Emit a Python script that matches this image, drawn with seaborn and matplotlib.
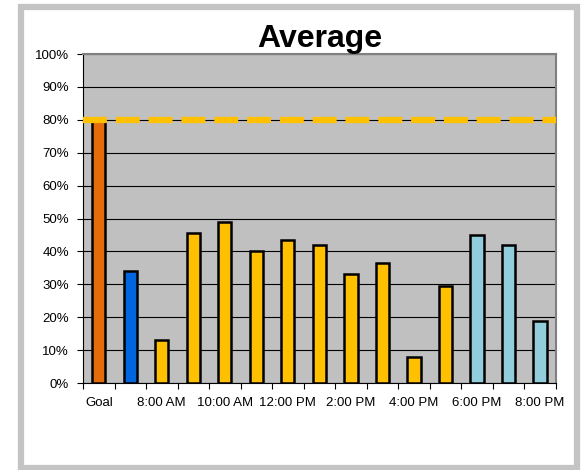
import pandas as pd
import seaborn as sns
import matplotlib.pyplot as plt
from matplotlib.patches import Rectangle
from matplotlib.ticker import FixedLocator, PercentFormatter

# Chart data
categories = ['Goal', '7:00 AM', '8:00 AM', '9:00 AM', '10:00 AM', '11:00 AM',
              '12:00 PM', '1:00 PM', '2:00 PM', '3:00 PM', '4:00 PM', '5:00 PM',
              '6:00 PM', '7:00 PM', '8:00 PM']
values = [80, 34, 13, 45.5, 49, 40, 43.5, 42, 33, 36.5, 8, 29.5, 45, 42, 19]
bar_colors = ['#E46C0A', '#0066E0'] + ['#FFC000'] * 10 + ['#92CDDC'] * 3
goal_line = 80

df = pd.DataFrame({'slot': categories, 'pct': values})

sns.set_style('white')
plt.rcParams['font.family'] = ['Liberation Sans', 'DejaVu Sans']
plt.rcParams['text.color'] = 'black'
plt.rcParams['xtick.color'] = 'black'
plt.rcParams['ytick.color'] = 'black'

fig = plt.figure(figsize=(5.82, 4.70), dpi=100)
ax = fig.add_axes([0.1426, 0.185, 0.8124, 0.70])

# chart area border
fig.patches.append(Rectangle((0.0361, 0.004), 0.9553, 0.981, transform=fig.transFigure,
                             fill=False, edgecolor='#C4C4C4', linewidth=4.5, zorder=0))

ax.set_facecolor('#C0C0C0')
ax.yaxis.grid(True, color='black', linewidth=0.8)
ax.set_axisbelow(True)

sns.barplot(data=df, x='slot', y='pct', hue='slot', palette=bar_colors,
            legend=False, width=0.42, edgecolor='black', linewidth=1.8,
            saturation=1, ax=ax, zorder=2)

ax.axhline(goal_line, color='#FFC000', linewidth=4.5, linestyle=(0, (3.83, 1.42)),
           zorder=3)

ax.set_xlim(-0.5, len(categories) - 0.5)
ax.set_ylim(0, 100)
ax.set_yticks(range(0, 101, 10))
ax.yaxis.set_major_formatter(PercentFormatter(decimals=0))

# labels on every other slot, tick marks at category boundaries
ax.set_xticks(range(0, len(categories), 2))
ax.set_xticklabels(categories[::2])
ax.xaxis.set_minor_locator(FixedLocator([i - 0.5 for i in range(len(categories) + 1)]))
ax.tick_params(axis='x', which='major', length=0, pad=10, labelsize=9.5)
ax.tick_params(axis='x', which='minor', length=4, width=0.8, color='black', direction='out')
ax.tick_params(axis='y', length=4, width=0.8, color='black', direction='out',
               labelsize=9.5, pad=6)
ax.tick_params(bottom=True, left=True, which='both')

ax.set_xlabel('')
ax.set_ylabel('')

for side in ['top', 'right']:
    ax.spines[side].set_color('#808080')
    ax.spines[side].set_linewidth(1.5)
for side in ['left', 'bottom']:
    ax.spines[side].set_color('black')
    ax.spines[side].set_linewidth(0.8)

ax.set_title('Average', fontsize=23, fontweight='bold', color='black', pad=4.5)

fig.savefig('out.png', dpi=100)
